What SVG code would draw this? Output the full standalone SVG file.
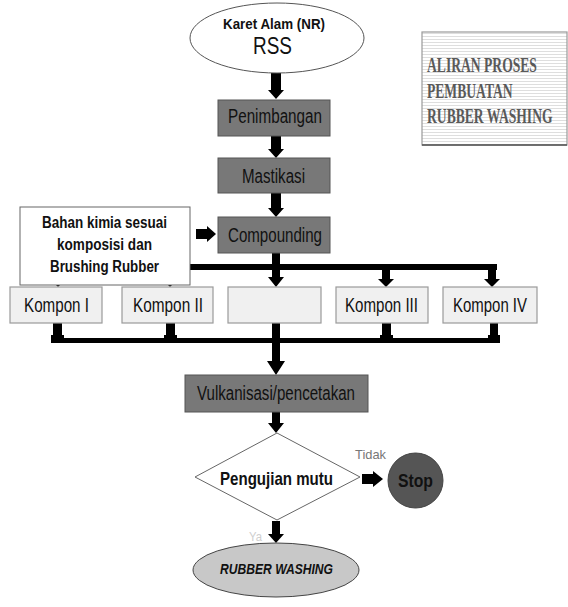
<svg xmlns="http://www.w3.org/2000/svg" width="568" height="607" viewBox="0 0 568 607">
<defs>
<pattern id="stripes" width="4" height="3" patternUnits="userSpaceOnUse">
<rect width="4" height="3" fill="#ffffff"/>
<rect width="4" height="1" fill="#dedede"/>
</pattern>
<style>
.t{font-family:"Liberation Sans",Arial,sans-serif;fill:#111;text-anchor:middle}
.b{font-weight:bold}
.proc{fill:#787878;stroke:#555;stroke-width:1}
.komp{fill:#f0f0f0;stroke:#9a9a9a;stroke-width:1.2}
.arr{fill:#000}
.ttl{font-family:"Liberation Serif","Times New Roman",serif;font-weight:bold;fill:#595959;font-size:20px}
</style>
</defs>
<rect width="568" height="607" fill="#ffffff"/>

<g id="connectors">
<rect x="54" y="264" width="443" height="6" class="arr"/>
<rect x="53" y="338" width="445" height="5" class="arr"/>
<path class="arr" d="M271,73 L281,73 L281,90 L284,90 L276,99 L268,90 L271,90 Z"/>
<path class="arr" d="M271,136 L281,136 L281,149 L284,149 L276,158 L268,149 L271,149 Z"/>
<path class="arr" d="M271,193 L281,193 L281,208 L284,208 L276,217 L268,208 L271,208 Z"/>
<path class="arr" d="M272,253 L280,253 L280,277 L284,277 L276,287 L268,277 L272,277 Z"/>
<path class="arr" d="M54,267 L62,267 L62,279 L66,279 L58,287 L50,279 L54,279 Z"/>
<path class="arr" d="M166,267 L174,267 L174,279 L178,279 L170,287 L162,279 L166,279 Z"/>
<path class="arr" d="M382,267 L390,267 L390,279 L394,279 L386,287 L378,279 L382,279 Z"/>
<path class="arr" d="M488,267 L496,267 L496,279 L500,279 L492,287 L484,279 L488,279 Z"/>
<path class="arr" d="M53,323 L62,323 L62,335 L64,335 L64,343 L51,343 L51,335 L53,335 Z"/>
<path class="arr" d="M166,323 L175,323 L175,335 L177,335 L177,343 L164,343 L164,335 L166,335 Z"/>
<path class="arr" d="M382,323 L391,323 L391,335 L393,335 L393,343 L380,343 L380,335 L382,335 Z"/>
<path class="arr" d="M490,323 L498,323 L498,335 L500,335 L500,343 L488,343 L488,335 L490,335 Z"/>
<path class="arr" d="M272,323 L280,323 L280,361 L285,361 L276,375 L267,361 L272,361 Z"/>
<path class="arr" d="M272,412 L280,412 L280,423 L284,423 L276,433 L268,423 L272,423 Z"/>
<path class="arr" d="M272,521 L280,521 L280,534 L284,534 L276,543 L268,534 L272,534 Z"/>
<path class="arr" d="M196,229 L207,229 L207,226 L216,234 L207,242 L207,239 L196,239 Z"/>
<path class="arr" d="M362,474 L373,474 L373,471 L383,479 L373,487 L373,484 L362,484 Z"/>
<text class="t" x="370.5" y="459" font-size="13" style="fill:#777" textLength="31" lengthAdjust="spacingAndGlyphs">Tidak</text>
<text class="t" x="255.5" y="541" font-size="13" style="fill:#cfcfcf" textLength="13" lengthAdjust="spacingAndGlyphs">Ya</text>
</g>

<g id="title">
<rect x="422" y="32" width="145" height="113" fill="url(#stripes)" stroke="#9a9a9a" stroke-width="1.2"/>
<line x1="422" y1="145" x2="567" y2="145" stroke="#555" stroke-width="1.5"/>
<text class="ttl" transform="matrix(0.68 0 0 1 427 72)">ALIRAN PROSES</text>
<text class="ttl" transform="matrix(0.68 0 0 1 427 98)">PEMBUATAN</text>
<text class="ttl" transform="matrix(0.68 0 0 1 427 123)">RUBBER WASHING</text>
</g>

<g id="start">
<ellipse cx="277" cy="38" rx="87" ry="35" fill="#ffffff" stroke="#555" stroke-width="1"/>
<text class="t b" x="274" y="29" font-size="15" textLength="102" lengthAdjust="spacingAndGlyphs">Karet Alam (NR)</text>
<text class="t" x="272.5" y="54" font-size="24" textLength="39" lengthAdjust="spacingAndGlyphs">RSS</text>
</g>

<g id="penimbangan">
<rect class="proc" x="218" y="100" width="112" height="36"/>
<text class="t" x="275" y="123" font-size="20" textLength="94" lengthAdjust="spacingAndGlyphs">Penimbangan</text>
</g>

<g id="mastikasi">
<rect class="proc" x="218" y="158" width="112" height="35"/>
<text class="t" x="273.5" y="183" font-size="20" textLength="63" lengthAdjust="spacingAndGlyphs">Mastikasi</text>
</g>

<g id="compounding">
<rect class="proc" x="218" y="217" width="112" height="36"/>
<text class="t" x="275" y="242" font-size="20" textLength="94" lengthAdjust="spacingAndGlyphs">Compounding</text>
</g>

<g id="bahan">
<rect x="20" y="207" width="170" height="78" fill="#ffffff" stroke="#666" stroke-width="1"/>
<text class="t b" x="104.5" y="228" font-size="16" textLength="125" lengthAdjust="spacingAndGlyphs">Bahan kimia sesuai</text>
<text class="t b" x="104.5" y="250" font-size="16" textLength="95" lengthAdjust="spacingAndGlyphs">komposisi dan</text>
<text class="t b" x="104.5" y="272" font-size="16" textLength="109" lengthAdjust="spacingAndGlyphs">Brushing Rubber</text>
</g>

<g id="kompon1">
<rect class="komp" x="10" y="287" width="92" height="36"/>
<text class="t" x="56.5" y="312" font-size="20" textLength="65" lengthAdjust="spacingAndGlyphs">Kompon I</text>
</g>
<g id="kompon2">
<rect class="komp" x="122" y="287" width="91" height="36"/>
<text class="t" x="168" y="312" font-size="20" textLength="70" lengthAdjust="spacingAndGlyphs">Kompon II</text>
</g>
<g id="blank">
<rect class="komp" x="228" y="287" width="93" height="36"/>
</g>
<g id="kompon3">
<rect class="komp" x="336" y="287" width="92" height="36"/>
<text class="t" x="381.5" y="312" font-size="20" textLength="73" lengthAdjust="spacingAndGlyphs">Kompon III</text>
</g>
<g id="kompon4">
<rect class="komp" x="443" y="287" width="94" height="36"/>
<text class="t" x="490" y="312" font-size="20" textLength="74" lengthAdjust="spacingAndGlyphs">Kompon IV</text>
</g>

<g id="vulkanisasi">
<rect class="proc" x="185" y="375" width="183" height="37"/>
<text class="t" x="276" y="400" font-size="20" textLength="158" lengthAdjust="spacingAndGlyphs">Vulkanisasi/pencetakan</text>
</g>

<g id="pengujian">
<polygon points="277,433 360,477 277,520 195,477" fill="#ffffff" stroke="#666" stroke-width="1"/>
<text class="t b" x="276.5" y="485" font-size="18.5" textLength="113" lengthAdjust="spacingAndGlyphs">Pengujian mutu</text>
</g>

<g id="stop">
<circle cx="415.5" cy="480.5" r="27.5" fill="#555555" stroke="#444" stroke-width="1"/>
<text class="t b" x="415.5" y="487" font-size="19" textLength="35" lengthAdjust="spacingAndGlyphs">Stop</text>
</g>

<g id="rubberwashing">
<ellipse cx="276" cy="570" rx="83" ry="27" fill="#c8c8c8" stroke="#444" stroke-width="1"/>
<text class="t b" x="276.5" y="574" font-size="15" font-style="italic" textLength="113" lengthAdjust="spacingAndGlyphs">RUBBER WASHING</text>
</g>
</svg>
